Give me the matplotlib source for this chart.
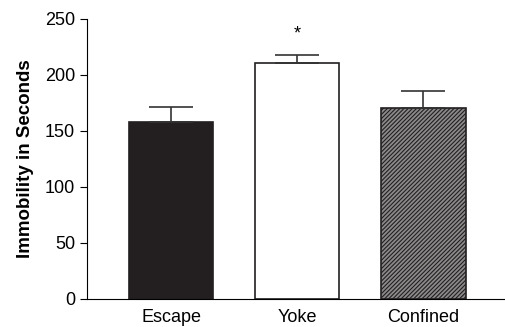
import numpy as np
import matplotlib.pyplot as plt

plt.rcParams['font.family'] = ['Liberation Sans', 'DejaVu Sans']
plt.rcParams['hatch.linewidth'] = 0.8

groups = ['Escape', 'Yoke', 'Confined']
means = [158, 211, 170.5]
sems = [13, 7, 15.5]
faces = ['#231f20', 'white', '#8a8a8a']

fig = plt.figure(figsize=(5.05, 3.27), dpi=100)
ax = fig.add_axes([0.172, 0.086, 0.826, 0.856])

x = np.arange(len(groups))
bars = ax.bar(x, means, width=0.67, color=faces, edgecolor='#231f20', linewidth=1.2)
bars[2].set_hatch('////////')
ax.errorbar(x, means, yerr=[np.zeros(3), sems], fmt='none', ecolor='#333333',
            elinewidth=1.2, capsize=15.5, capthick=1.2, zorder=1)

# significance marker over Yoke
ax.text(x[1], 237, '*', ha='center', va='center', fontsize=13)

ax.set_xlim(-0.668, 2.64)
ax.set_ylim(0, 250)
ax.set_yticks([0, 50, 100, 150, 200, 250])
ax.set_xticks(x)
ax.set_xticklabels(groups, fontsize=13)
ax.tick_params(axis='y', labelsize=13, length=5, pad=3.5, direction='out')
ax.tick_params(axis='x', length=0, pad=7)
ax.set_ylabel('Immobility in Seconds', fontsize=13.5, fontweight='bold', labelpad=8)
for s in ['top', 'right']:
    ax.spines[s].set_visible(False)

fig.savefig('out.png', dpi=100)
